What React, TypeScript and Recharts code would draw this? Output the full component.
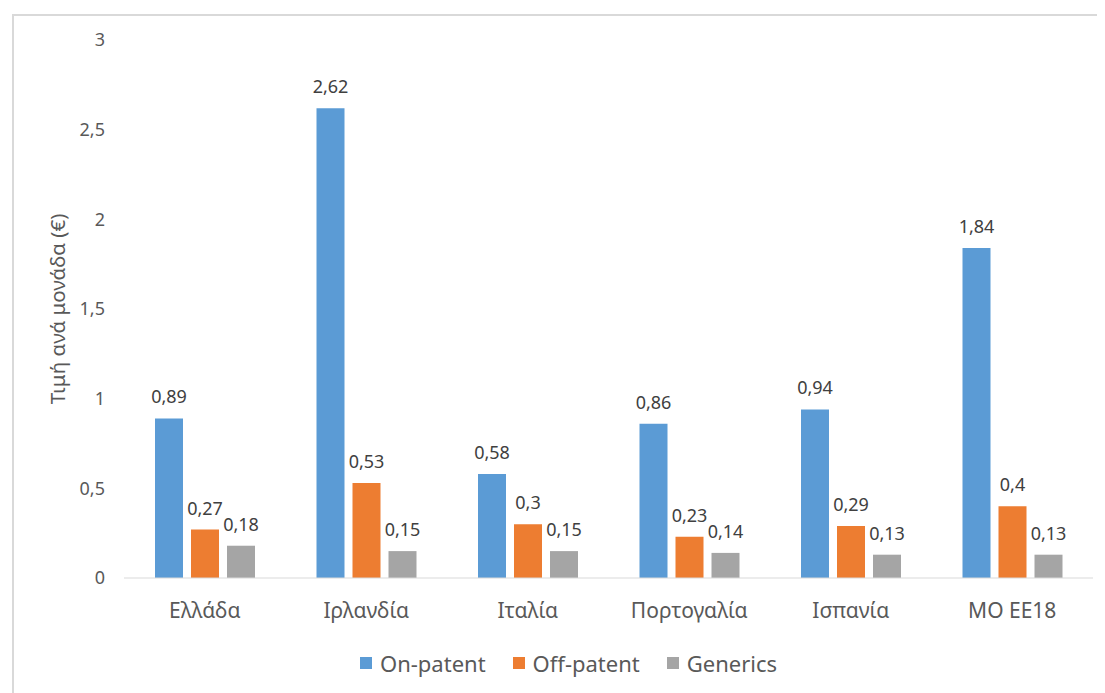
import { BarChart, Bar, XAxis, YAxis, Legend, LabelList, Label } from "recharts";

const countries = ["Ελλάδα", "Ιρλανδία", "Ιταλία", "Πορτογαλία", "Ισπανία", "ΜΟ ΕΕ18"];
const onPatent = [0.89, 2.62, 0.58, 0.86, 0.94, 1.84];
const offPatent = [0.27, 0.53, 0.3, 0.23, 0.29, 0.4];
const generics = [0.18, 0.15, 0.15, 0.14, 0.13, 0.13];
const yTicks = [0, 0.5, 1, 1.5, 2, 2.5, 3];

const seriesNames = ["On-patent", "Off-patent", "Generics"];
const COLORS = ["#5B9BD5", "#ED7D31", "#A5A5A5"];

const data = countries.map((name, i) => ({
  name,
  onPatent: onPatent[i],
  offPatent: offPatent[i],
  generics: generics[i],
}));

const FONT = "'Noto Sans', sans-serif";
const fmt = (v: number) => String(v).replace(".", ",");

function LegendContent() {
  return (
    <div
      style={{
        display: "flex",
        justifyContent: "center",
        gap: 27,
        fontFamily: FONT,
        fontSize: 22,
        color: "#595959",
        paddingLeft: 30,
      }}
    >
      {seriesNames.map((s, i) => (
        <span key={s} style={{ display: "flex", alignItems: "center" }}>
          <span
            style={{
              width: 12,
              height: 12,
              background: COLORS[i],
              display: "inline-block",
              marginRight: 8,
            }}
          />
          {s}
        </span>
      ))}
    </div>
  );
}

export default function App() {
  return (
    <div
      style={{
        position: "relative",
        left: 4,
        top: 6,
        width: 1100,
        height: 690,
        border: "2px solid #d9d9d9",
        background: "#fff",
      }}
    >
      <BarChart
        width={1100}
        height={690}
        data={data}
        margin={{ top: 24, right: 21, left: 0, bottom: 18 }}
        barSize={28}
        barGap={8}
      >
        <XAxis
          dataKey="name"
          height={70}
          tickSize={0}
          tickMargin={25}
          axisLine={{ stroke: "#d9d9d9" }}
          tickLine={false}
          tick={{ fill: "#595959", fontSize: 21, fontFamily: FONT }}
        />
        <YAxis
          width={110}
          domain={[0, 3]}
          ticks={yTicks}
          tickFormatter={fmt}
          axisLine={false}
          tickLine={false}
          tickSize={0}
          tickMargin={19}
          tick={{ fill: "#595959", fontSize: 18, fontFamily: FONT }}
        >
          <Label
            content={({ viewBox }: any) => {
              const x = viewBox.x + 43;
              const y = viewBox.y + viewBox.height / 2;
              return (
                <text
                  x={x}
                  y={y}
                  transform={`rotate(-90 ${x} ${y})`}
                  textAnchor="middle"
                  dominantBaseline="central"
                  fill="#595959"
                  fontSize={20.5}
                  fontFamily={FONT}
                >
                  Τιμή ανά μονάδα (€)
                </text>
              );
            }}
          />
        </YAxis>
        <Legend verticalAlign="bottom" height={40} content={<LegendContent />} />
        {(["onPatent", "offPatent", "generics"] as const).map((key, i) => (
          <Bar
            key={key}
            dataKey={key}
            name={seriesNames[i]}
            fill={COLORS[i]}
            isAnimationActive={false}
          >
            <LabelList
              dataKey={key}
              position="top"
              offset={15}
              formatter={(v: any) => fmt(Number(v))}
              style={{ fill: "#404040", fontSize: 18, fontFamily: FONT }}
            />
          </Bar>
        ))}
      </BarChart>
    </div>
  );
}
